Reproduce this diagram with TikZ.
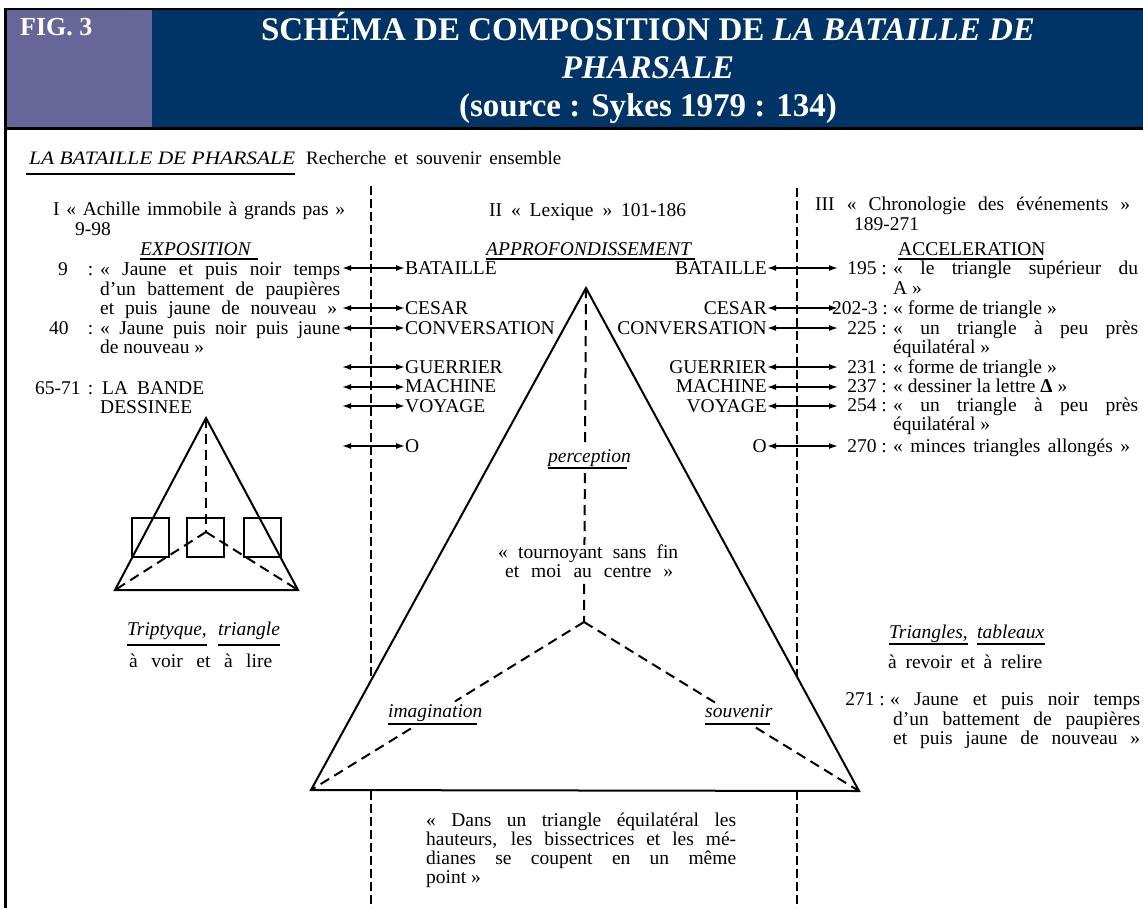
\documentclass[tikz,border=0pt]{standalone}
\usepackage{fontspec}
\setmainfont{Liberation Serif}
\newfontfamily\hf{Liberation Serif}
\usetikzlibrary{arrows.meta,calc}
\definecolor{navy}{RGB}{0,51,102}
\definecolor{violet2}{RGB}{102,102,153}
\newcommand\jw[2]{\makebox[#1pt][s]{#2}}
\newcommand\rw[2]{\resizebox{#1pt}{\height}{#2}}
\begin{document}
\begin{tikzpicture}[x=1pt,y=-1pt,
  txt/.style={inner sep=0pt, anchor=base west, font=\fontsize{19.5}{20}\selectfont},
  txr/.style={txt, anchor=base east},
  itx/.style={txt, font=\fontsize{19.5}{20}\selectfont\itshape},
  hd/.style={inner sep=0pt, anchor=base, text=white, font=\hf\bfseries\fontsize{33}{38}\selectfont},
  ul/.style={line width=1.5pt},
  dv/.style={line width=1.6pt, dash pattern=on 9pt off 4pt},
  td/.style={line width=2pt, dash pattern=on 10pt off 6pt},
  tri/.style={line width=2pt, line join=miter},
  dbl/.style={{Latex[length=9pt,width=6pt]}-{Latex[length=9pt,width=6pt]}, line width=1.5pt}]
\useasboundingbox (0,0) rectangle (1143,908);
\fill[white] (0,0) rectangle (1143,908);
% header
\fill[navy] (6,10) rectangle (1143,127);
\fill[violet2] (6,10) rectangle (152,127);
\draw[line width=2.5pt] (4,9) -- (1143,9);
\draw[line width=3pt] (4,128.5) -- (1143,128.5);
\draw[line width=3pt] (5.5,8) -- (5.5,908);
\node[inner sep=0pt, anchor=base west, text=white, font=\hf\bfseries\fontsize{26}{30}\selectfont] (fig) at (20,35) {FIG. 3};
\node[hd] (t1) at (648,40) {SCHÉMA DE COMPOSITION DE \textit{LA BATAILLE DE}};
\node[hd] (t2) at (648,78) {\textit{PHARSALE}};
\node[hd] (t3) at (648,116) {(source : Sykes 1979 : 134)};
% subtitle
\node[txt, font=\fontsize{19}{20}\selectfont\itshape] (st1) at (29,164) {\rw{266}{LA BATAILLE DE PHARSALE}};
\node[txt, font=\fontsize{19}{20}\selectfont] (st2) at (306,164) {\jw{255}{Recherche et souvenir ensemble}};
\draw[line width=2.5pt] ([xshift=-3pt,yshift=-10pt]st1.base west) -- ([yshift=-10pt]st1.base east);
% left column
\node[txt] (l1) at (53,215) {\jw{292}{I « Achille immobile à grands pas »}};
\node[txt] (l2) at (75,235) {9-98};
\node[itx] (lex) at (140,255) {\jw{118}{EXPOSITION}};
\draw[ul] ([yshift=-4pt]lex.base west) -- ([yshift=-4pt]lex.base east);
\node[txt] (l3n) at (58,275) {\jw{35}{9 :}};
\node[txt] (l3) at (100,275) {\jw{240}{« Jaune et puis noir temps}};
\node[txt] (l4) at (100,295) {\jw{240}{d’un battement de paupières}};
\node[txt] (l5) at (100,314) {\jw{237}{et puis jaune de nouveau »}};
\node[txt] (l6n) at (49,334) {\jw{44}{40 :}};
\node[txt] (l6) at (100,334) {\jw{240}{« Jaune puis noir puis jaune}};
\node[txt] (l7) at (100,353) {de nouveau »};
\node[txt] (l8n) at (35,394) {\jw{58}{65-71 :}};
\node[txt] (l8) at (102,394) {\jw{102}{LA BANDE}};
\node[txt] (l9) at (100,413) {DESSINEE};
% middle column
\node[txt] (m1) at (489,216) {\jw{197}{II « Lexique » 101-186}};
\node[itx] (mex) at (486,255) {\jw{209}{APPROFONDISSEMENT}};
\draw[ul] ([yshift=-4pt]mex.base west) -- ([yshift=-4pt]mex.base east);
\foreach \w/\y [count=\i] in {BATAILLE/274,CESAR/314,CONVERSATION/334,GUERRIER/373,MACHINE/392,VOYAGE/412,O/452}{
  \node[txt] (ml\i) at (405,\y) {\w};
  \node[txr] (mr\i) at (767,\y) {\w};
}
% right column
\node[txt] (r1) at (815,210) {\jw{315}{III « Chronologie des événements »}};
\node[txt] (r2) at (854,230) {189-271};
\node[txt] (rex) at (898,255) {\jw{145}{ACCELERATION}};
\draw[ul] ([yshift=-4pt]rex.base west) -- ([yshift=-4pt]rex.base east);
\node[txr] (r3n) at (887,274) {195 :};
\node[txt] (r3) at (893,274) {\jw{245}{« le triangle supérieur du}};
\node[txt] (r4) at (893,294) {A »};
\node[txr] (r5n) at (888,314) {202-3 :};
\node[txt] (r5) at (893,314) {« forme de triangle »};
\node[txr] (r6n) at (887,334) {225 :};
\node[txt] (r6) at (893,334) {\jw{245}{« un triangle à peu près}};
\node[txt] (r7) at (893,353) {équilatéral »};
\node[txr] (r8n) at (887,373) {231 :};
\node[txt] (r8) at (893,373) {« forme de triangle »};
\node[txr] (r9n) at (887,392) {237 :};
\node[txt] (r9) at (893,392) {« dessiner la lettre \textbf{Δ} »};
\node[txr] (r10n) at (887,411) {254 :};
\node[txt] (r10) at (893,411) {\jw{245}{« un triangle à peu près}};
\node[txt] (r11) at (893,430) {équilatéral »};
\node[txr] (r12n) at (887,452) {270 :};
\node[txt] (r12) at (893,452) {\jw{237}{« minces triangles allongés »}};
% arrows
\foreach \y [count=\i] in {268,308,328,367,387,406,446}{
  \coordinate (la\i) at (342,\y);
  \coordinate (ra\i) at (838,\y);
  \draw[dbl] (la\i) -- (la\i -| ml\i.west);
  \draw[dbl] (mr\i.east |- ra\i) -- (ra\i);
}
% dividers
\coordinate (dl1) at (371,186); \coordinate (dl2) at (371,680);
\coordinate (dl3) at (371,791); \coordinate (dl4) at (371,908);
\coordinate (dr1) at (797,188); \coordinate (dr2) at (797,677);
\coordinate (dr3) at (797,791); \coordinate (dr4) at (797,908);
\draw[dv] (dl1) -- (dl2); \draw[dv] (dl3) -- (dl4);
\draw[dv] (dr1) -- (dr2); \draw[dv] (dr3) -- (dr4);
% big triangle
\coordinate (A) at (586,288); \coordinate (BL) at (311,790);
\coordinate (BR) at (859,791); \coordinate (C) at (584,622);
\draw[tri] (A) -- (BL) -- (BR) -- cycle;
\draw[td] (A) -- ($(A)!0.479!(C)$);
\draw[td] ($(A)!0.554!(C)$) -- ($(A)!0.769!(C)$);
\draw[td] ($(A)!0.886!(C)$) -- (C);
\draw[td] (C) -- ($(C)!0.4725!(BL)$);
\draw[td] ($(C)!0.634!(BL)$) -- (BL);
\draw[td] (C) -- ($(C)!0.476!(BR)$);
\draw[td] ($(C)!0.625!(BR)$) -- (BR);
\node[itx] (perc) at (548,462) {\jw{79}{perception}};
\draw[ul] ([yshift=-6pt]perc.base west) -- ([yshift=-6pt]perc.base east);
\node[txt] (tn1) at (498,558) {\jw{180}{« tournoyant sans fin}};
\node[txt] (tn2) at (505,577) {\jw{168}{et moi au centre »}};
\node[itx] (imag) at (388,717) {\jw{89}{imagination}};
\draw[ul] ([yshift=-7pt]imag.base west) -- ([yshift=-7pt]imag.base east);
\node[itx] (souv) at (705,717) {\jw{65}{souvenir}};
\draw[ul] ([yshift=-7pt]souv.base west) -- ([yshift=-7pt]souv.base east);
% bottom quotation
\node[txt] (q1) at (426,826) {\jw{310}{« Dans un triangle équilatéral les}};
\node[txt] (q2) at (426,845) {\jw{310}{hauteurs, les bissectrices et les mé-}};
\node[txt] (q3) at (426,864) {\jw{310}{dianes se coupent en un même}};
\node[txt] (q4) at (426,883) {point »};
% small triangle
\coordinate (a2) at (206,418); \coordinate (bl2) at (115,590);
\coordinate (br2) at (298,590); \coordinate (c2) at (206,532);
\draw[tri] (a2) -- (bl2) -- (br2) -- cycle;
\draw[td] (a2) -- (c2);
\draw[td] (c2) -- (bl2);
\draw[td] (c2) -- (br2);
\draw[tri] (132,518) rectangle (169,557);
\draw[tri] (187,518) rectangle (224,557);
\draw[tri] (244,518) rectangle (281,557);
\node[itx] (tp1) at (127,635) {Triptyque,};
\node[itx] (tp2) at (218,635) {triangle};
\draw[ul] ([yshift=-10pt]tp1.base west) -- ([yshift=-10pt]tp1.base east);
\draw[ul] ([yshift=-10pt]tp2.base west) -- ([yshift=-10pt]tp2.base east);
\node[txt] (tp3) at (129,667) {\jw{143}{à voir et à lire}};
% bottom right
\node[itx] (tr1) at (889,638) {Triangles,};
\node[itx] (tr2) at (977,638) {tableaux};
\draw[ul] ([yshift=-6pt]tr1.base west) -- ([yshift=-6pt]tr1.base east);
\draw[ul] ([yshift=-6pt]tr2.base west) -- ([yshift=-6pt]tr2.base east);
\node[txt] (tr3) at (888,668) {\jw{154}{à revoir et à relire}};
\node[txr] (tr4n) at (885,705) {271 :};
\node[txt] (tr4) at (890,705) {\jw{250}{« Jaune et puis noir temps}};
\node[txt] (tr5) at (893,725) {\jw{247}{d’un battement de paupières}};
\node[txt] (tr6) at (893,744) {\jw{247}{et puis jaune de nouveau »}};
\end{tikzpicture}
\end{document}
